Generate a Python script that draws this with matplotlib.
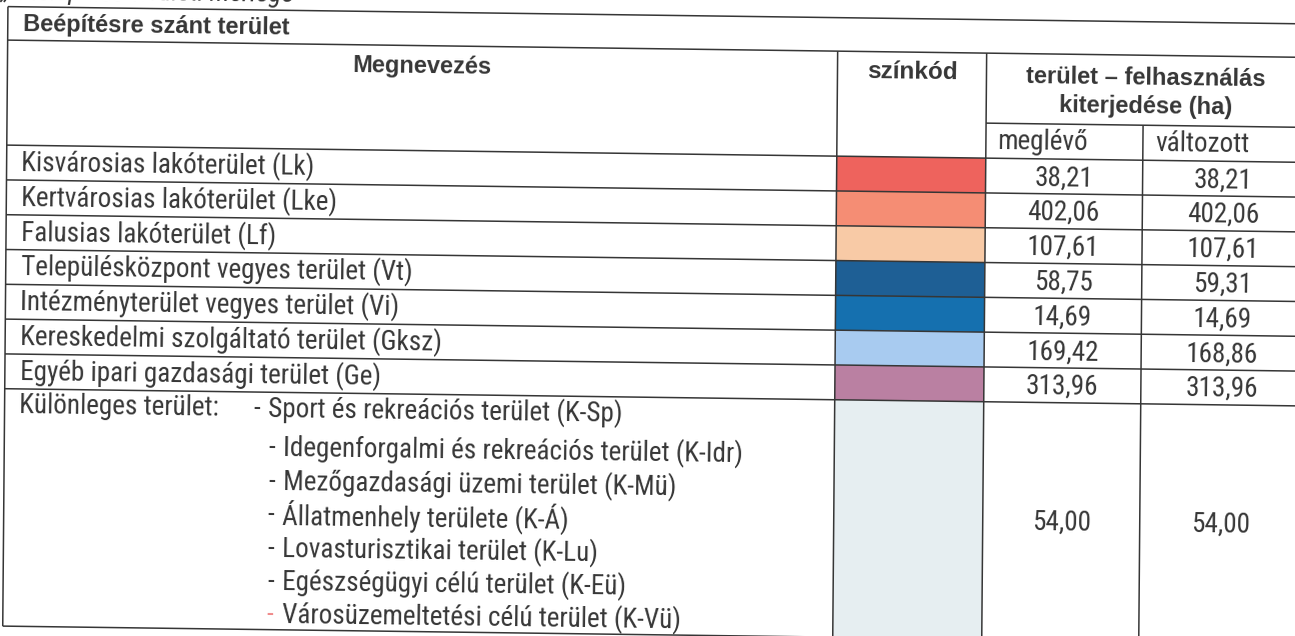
import matplotlib
matplotlib.use('Agg')
import matplotlib.pyplot as plt
from matplotlib.transforms import Affine2D

# table content
title = 'Beépítésre szánt terület'
col_heads = ['Megnevezés', 'színkód', 'terület – felhasználás\nkiterjedése (ha)']
sub_heads = ['meglévő', 'változott']

names = ['Kisvárosias lakóterület (Lk)',
         'Kertvárosias lakóterület (Lke)',
         'Falusias lakóterület (Lf)',
         'Településközpont vegyes terület (Vt)',
         'Intézményterület vegyes terület (Vi)',
         'Kereskedelmi szolgáltató terület (Gksz)',
         'Egyéb ipari gazdasági terület (Ge)']
colors = ['#EE635D', '#F58D74', '#F8CAA6', '#1E5F95', '#1570AF', '#A8CBF0', '#BA80A2']
meglevo = ['38,21', '402,06', '107,61', '58,75', '14,69', '169,42', '313,96']
valtozott = ['38,21', '402,06', '107,61', '59,31', '14,69', '168,86', '313,96']

k_name = 'Különleges terület:'
k_items = ['Sport és rekreációs terület (K-Sp)',
           'Idegenforgalmi és rekreációs terület (K-Idr)',
           'Mezőgazdasági üzemi terület (K-Mü)',
           'Állatmenhely területe (K-Á)',
           'Lovasturisztikai terület (K-Lu)',
           'Egészségügyi célú terület (K-Eü)',
           'Városüzemeltetési célú terület (K-Vü)']
k_color = '#E6EEF1'
k_meglevo = '54,00'
k_valtozott = '54,00'

# layout (pixels, before the scan skew)
W, H = 1295, 636
x_left, x_c1, x_c2, x_c3, x_right = 8, 838, 987, 1144, 1306
y_top, y_title, y_sub = 6.5, 40, 110
row_h = 34.8
y_rows = [145 + i * row_h for i in range(len(names) + 1)]
y_bottom = 626
k_lines = [405, 444, 477.5, 511, 544.5, 578, 611]

ink = '#363636'
narrow = ['Liberation Sans Narrow', 'Roboto Condensed', 'DejaVu Sans']
boldf = ['Liberation Sans', 'DejaVu Sans']

fig = plt.figure(figsize=(W / 100, H / 100), dpi=100)
ax = fig.add_axes([0, 0, 1, 1])
ax.set_xlim(0, W)
ax.set_ylim(H, 0)
ax.axis('off')

# the scan is slightly skewed
skew = Affine2D.from_values(1, 0.0133, -0.0084, 1, 0, 0)
tr = skew + ax.transData
rot = -0.76


def hline(y, x0, x1):
    ax.plot([x0, x1], [y, y], color=ink, lw=1.1, transform=tr, solid_capstyle='butt')


def vline(x, y0, y1):
    ax.plot([x, x], [y0, y1], color=ink, lw=1.1, transform=tr, solid_capstyle='butt')


def txt(x, y, s, size=19.5, ha='left', bold=False, family=None, color=ink, **kw):
    ax.text(x, y, s, transform=tr, ha=ha, va='center', rotation=rot,
            rotation_mode='anchor', fontsize=size, color=color,
            family=family or (boldf if bold else narrow),
            fontweight='bold' if bold else 'normal', **kw)


# colour cells
for i, c in enumerate(colors):
    ax.fill([x_c1, x_c2, x_c2, x_c1], [y_rows[i], y_rows[i], y_rows[i + 1], y_rows[i + 1]],
            color=c, transform=tr, lw=0)
ax.fill([x_c1, x_c2, x_c2, x_c1], [y_rows[-1], y_rows[-1], y_bottom + 20, y_bottom + 20],
        color=k_color, transform=tr, lw=0)

# grid
hline(y_top, x_left, x_right)
hline(y_title, x_left, x_right)
hline(y_sub, x_c2, x_right)
for y in y_rows:
    hline(y, x_left, x_right)
hline(y_bottom, x_left, x_right)
vline(x_left, y_top, y_bottom)
vline(x_c1, y_title, y_bottom + 20)
vline(x_c2, y_title, y_bottom + 20)
vline(x_c3, y_sub, y_bottom + 20)

# partly cut caption above the table
ax.text(0, 2, '„A település területi mérlege', transform=tr, ha='left', va='baseline',
        rotation=rot, fontsize=19.5, color=ink, style='italic', family=narrow)

# headers
txt(23, (y_top + y_title) / 2 + 1, title, size=17, bold=True)
txt((x_left + x_c1) / 2, 61, col_heads[0], size=17, ha='center', bold=True)
txt((x_c1 + x_c2) / 2, 60, col_heads[1], size=17.5, ha='center', bold=True)
txt((x_c2 + x_right) / 2, 77, col_heads[2], size=17, ha='center', bold=True,
    linespacing=1.35)
txt(x_c2 + 12, (y_sub + y_rows[0]) / 2 + 1, sub_heads[0])
txt(x_c3 + 13, (y_sub + y_rows[0]) / 2 + 1, sub_heads[1])

# rows
for i, n in enumerate(names):
    yc = (y_rows[i] + y_rows[i + 1]) / 2
    txt(23, yc, n)
    txt((x_c2 + x_c3) / 2, yc + 1, meglevo[i], ha='center')
    txt((x_c3 + x_right) / 2, yc + 1, valtozott[i], ha='center')

txt(23, k_lines[0], k_name)
for j, s in enumerate(k_items):
    x0 = 257 if j == 0 else 272
    # the last dash is printed in red
    dash_col = '#F08A8A' if j == len(k_items) - 1 else ink
    txt(x0, k_lines[j], '-', color=dash_col)
    txt(x0 + 15, k_lines[j], s)
yk = (y_rows[-1] + y_bottom) / 2
txt((x_c2 + x_c3) / 2, yk, k_meglevo, ha='center')
txt((x_c3 + x_right) / 2, yk, k_valtozott, ha='center')

fig.savefig('out.png', dpi=100, facecolor='white')
